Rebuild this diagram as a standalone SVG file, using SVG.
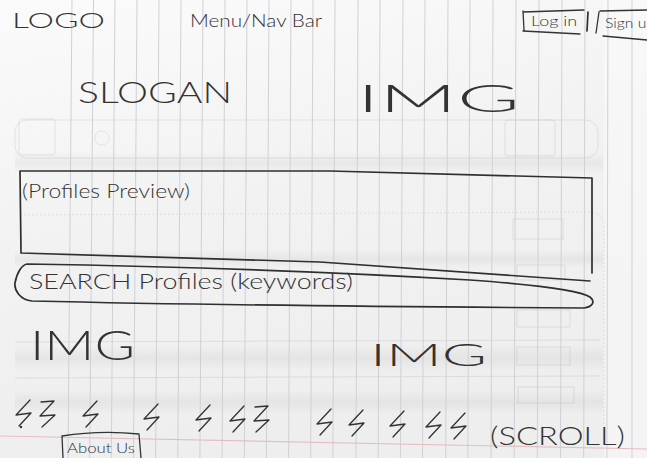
<svg xmlns="http://www.w3.org/2000/svg" width="647" height="458" viewBox="0 0 647 458">
  <defs>
    <style>
      .rule{stroke:#cdd1d8;stroke-width:1;fill:none}
      .margin{stroke:#e6bec2;stroke-width:1.2;fill:none}
      .ghost{stroke:#999;stroke-width:1;fill:none;opacity:.22}
      .pen{stroke:#2f2f2f;stroke-width:1.7;fill:none;stroke-linecap:round;stroke-linejoin:round}
      .pen-thin{stroke:#333;stroke-width:1.3;fill:none;stroke-linecap:round;stroke-linejoin:round}
      .hand{font-family:Lato,'Open Sans','DejaVu Sans',sans-serif;font-weight:300;fill:#333}
    </style>
    <linearGradient id="paper" x1="0" y1="0" x2="0.3" y2="1">
      <stop offset="0" stop-color="#fbfbfb"/>
      <stop offset="0.5" stop-color="#f2f2f2"/>
      <stop offset="1" stop-color="#eeeeee"/>
    </linearGradient>
    <linearGradient id="shade" x1="0" y1="0" x2="0" y2="1">
      <stop offset="0" stop-color="#000" stop-opacity="0"/>
      <stop offset="0.5" stop-color="#000" stop-opacity="0.045"/>
      <stop offset="1" stop-color="#000" stop-opacity="0"/>
    </linearGradient>
    <!-- scribbled placeholder marks for the scrolling strip -->
    <path id="zz" d="M16,0 L2,15 L17,13 L5,26" class="pen-thin"/>
    <path id="zz2" d="M4,1 L17,0 L3,15 L18,14 L5,26" class="pen-thin"/>
  </defs>

  <!-- paper -->
  <rect width="647" height="458" fill="url(#paper)"/>
  <rect x="604" y="0" width="43" height="458" fill="#fff" opacity="0.35"/>

  <!-- soft show-through from the back of the sheet -->
  <g id="show-through">
    <rect x="15" y="152" width="588" height="22" fill="url(#shade)"/>
    <rect x="15" y="250" width="588" height="18" fill="url(#shade)"/>
    <rect x="15" y="345" width="588" height="26" fill="url(#shade)"/>
    <rect x="15" y="390" width="588" height="24" fill="url(#shade)"/>
    <rect x="15" y="120" width="583" height="38" rx="12" class="ghost"/>
    <rect x="19" y="119" width="36" height="36" rx="3" class="ghost"/>
    <circle cx="102" cy="138" r="7" class="ghost"/>
    <rect x="505" y="120" width="50" height="36" rx="3" class="ghost"/>
    <path d="M20,215 L590,212 Q605,213 604,230 L604,440" class="ghost" stroke-dasharray="2 2"/>
    <rect x="513" y="219" width="50" height="20" class="ghost"/>
    <rect x="517" y="265" width="48" height="15" class="ghost"/>
    <path d="M15,342 L600,340 M15,378 L600,376" class="ghost"/>
    <rect x="517" y="310" width="53" height="17" class="ghost"/>
    <rect x="517" y="347" width="53" height="18" class="ghost"/>
    <rect x="518" y="387" width="56" height="16" class="ghost"/>
  </g>

  <!-- ruled lines -->
  <path class="rule" d="M72,0L68,458 M93.5,0L89.7,458 M115,0L111.3,458 M137,0L133.5,458 M159,0L155.6,458 M181,0L177.8,458 M203,0L199.9,458 M225,0L222.1,458 M247,0L244.3,458 M269,0L266.4,458 M291,0L288.6,458 M313,0L310.7,458 M335,0L332.9,458 M358,0L356,458 M380,0L378.2,458 M403,0L400.4,458 M425,0L422.5,458 M448,0L445.7,458 M470,0L467.8,458 M493,0L491,458 M516,0L514.2,458 M539,0L537.3,458 M562,0L560.5,458 M585,0L583.7,458 M608,0L606.9,458 M632,0L632,458"/>
  <path class="margin" d="M0,436 L647,449"/>

  <!-- header -->
  <g id="logo">
    <text class="hand" x="12" y="28" font-size="22" textLength="93" lengthAdjust="spacingAndGlyphs">LOGO</text>
  </g>
  <g id="nav-bar">
    <text class="hand" x="190" y="27" font-size="18" textLength="132" lengthAdjust="spacingAndGlyphs">Menu/Nav Bar</text>
  </g>
  <g id="log-in">
    <path class="pen-thin" d="M523,12 L584,10 M523,11 L524,30 M523,31 L580,34"/>
    <text class="hand" x="531" y="26" font-size="14" textLength="46" lengthAdjust="spacingAndGlyphs">Log in</text>
    <path class="pen" d="M588,12 L587,31"/>
  </g>
  <g id="sign-up">
    <path class="pen-thin" d="M599,12 L596,33 M600,11 L647,10 M603,36 L647,40"/>
    <text class="hand" x="605" y="28" font-size="13" textLength="50" lengthAdjust="spacingAndGlyphs">Sign up</text>
  </g>

  <g id="slogan">
    <text class="hand" x="78" y="103" font-size="29" textLength="154" lengthAdjust="spacingAndGlyphs">SLOGAN</text>
  </g>
  <g id="hero-img">
    <text class="hand" x="357" y="112" font-size="38" textLength="163" lengthAdjust="spacingAndGlyphs">IMG</text>
  </g>

  <!-- profiles preview panel -->
  <g id="profiles-preview">
    <path class="pen" d="M20,171 L330,171 L592,178 M592,178 L592,273 M20,171 L21,253 M21,253 L320,262 L590,281"/>
    <text class="hand" x="22" y="198" font-size="20" textLength="168" lengthAdjust="spacingAndGlyphs">(Profiles Preview)</text>
  </g>

  <!-- keyword search field -->
  <g id="search-profiles">
    <path class="pen" d="M27,264 C150,266 320,271 470,280 C540,285 580,290 590,297 C596,302 592,307 584,308 C420,307 200,305 32,301 C20,300 14,290 15,283 C17,272 22,265 27,264 Z"/>
    <text class="hand" x="29" y="289" font-size="22" textLength="324" lengthAdjust="spacingAndGlyphs">SEARCH Profiles (keywords)</text>
  </g>

  <g id="img-left">
    <text class="hand" x="30" y="360" font-size="42" textLength="105" lengthAdjust="spacingAndGlyphs">IMG</text>
  </g>
  <g id="img-right">
    <text class="hand" x="370" y="366" font-size="32" textLength="117" lengthAdjust="spacingAndGlyphs">IMG</text>
  </g>

  <!-- scrolling strip -->
  <g id="scroll-strip">
    <use href="#zz" x="14" y="400"/>
    <circle cx="21" cy="427" r="1.2" fill="#333"/>
    <use href="#zz2" x="37" y="401"/>
    <use href="#zz" x="81" y="401"/>
    <use href="#zz" x="142" y="404"/>
    <use href="#zz" x="194" y="405"/>
    <use href="#zz" x="228" y="406"/>
    <use href="#zz2" x="251" y="406"/>
    <use href="#zz" x="315" y="409"/>
    <use href="#zz" x="347" y="410"/>
    <use href="#zz" x="388" y="411"/>
    <use href="#zz" x="424" y="412"/>
    <use href="#zz" x="449" y="413"/>
    <text class="hand" x="490" y="445" font-size="25" textLength="135" lengthAdjust="spacingAndGlyphs">(SCROLL)</text>
  </g>

  <g id="about-us">
    <path class="pen-thin" d="M63,458 L62,436 Q100,430 139,434 L141,458"/>
    <text class="hand" x="67" y="453" font-size="14" textLength="68" lengthAdjust="spacingAndGlyphs">About Us</text>
  </g>
</svg>
